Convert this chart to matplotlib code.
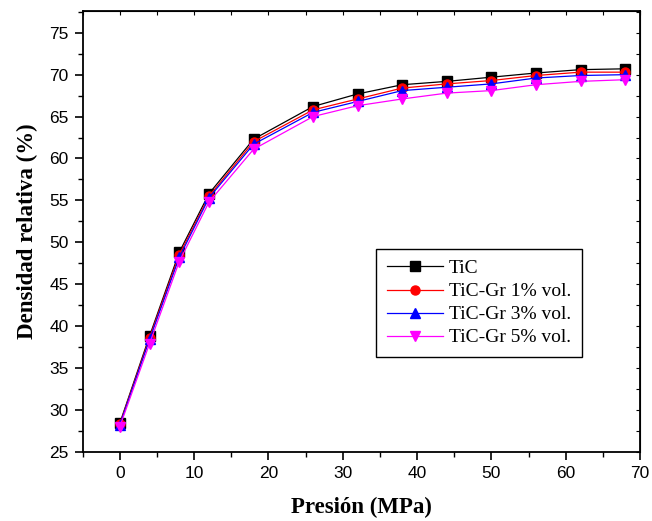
import numpy as np
import matplotlib
matplotlib.use("Agg")
import matplotlib.pyplot as plt
from matplotlib.ticker import MultipleLocator

# Data
presion = [0, 4, 8, 12, 18, 26, 32, 38, 44, 50, 56, 62, 68]
tic = [28.4, 38.8, 48.8, 55.8, 62.3, 66.2, 67.7, 68.8, 69.2, 69.7, 70.2, 70.6, 70.7]
tic_gr1 = [28.3, 38.6, 48.5, 55.5, 62.0, 65.8, 67.1, 68.4, 68.9, 69.3, 69.9, 70.3, 70.3]
tic_gr3 = [28.2, 38.4, 48.2, 55.3, 61.7, 65.5, 66.8, 68.1, 68.5, 68.9, 69.6, 69.9, 70.0]
tic_gr5 = [28.0, 37.9, 47.7, 54.8, 61.1, 65.0, 66.3, 67.1, 67.8, 68.1, 68.8, 69.2, 69.4]

series = [
    ("TiC", tic, "black", "s"),
    ("TiC-Gr 1% vol.", tic_gr1, "red", "o"),
    ("TiC-Gr 3% vol.", tic_gr3, "blue", "^"),
    ("TiC-Gr 5% vol.", tic_gr5, "magenta", "v"),
]

fig = plt.figure(figsize=(6.52, 5.21), dpi=100)
ax = fig.add_axes([0.1268, 0.133, 0.8548, 0.8459])

for label, vals, color, marker in series:
    ax.plot(presion, vals, color=color, marker=marker, markersize=6.5,
            linewidth=0.9, label=label)

ax.set_xlim(-5, 70)
ax.set_ylim(25, 77.6)
ax.xaxis.set_major_locator(MultipleLocator(10))
ax.xaxis.set_minor_locator(MultipleLocator(5))
ax.yaxis.set_major_locator(MultipleLocator(5))
ax.yaxis.set_minor_locator(MultipleLocator(2.5))
ax.tick_params(which="major", direction="out", length=6, width=1.2,
               labelsize=12.5, pad=4)
ax.tick_params(which="minor", direction="out", length=3.5, width=1.0)
for lab in ax.get_xticklabels() + ax.get_yticklabels():
    lab.set_family("Liberation Sans")
for sp in ax.spines.values():
    sp.set_linewidth(1.3)

# inward ticks on the top and right spines
top = ax.secondary_xaxis("top")
top.xaxis.set_major_locator(MultipleLocator(5))
top.tick_params(direction="in", length=3, width=0.8, labeltop=False)
right = ax.secondary_yaxis("right")
right.yaxis.set_major_locator(MultipleLocator(2.5))
right.tick_params(direction="in", length=3, width=0.8, labelright=False)

ax.set_xlabel("Presión (MPa)", family="Liberation Serif", fontweight="bold",
              fontsize=16.5, labelpad=12)
ax.set_ylabel("Densidad relativa (%)", family="Liberation Serif",
              fontweight="bold", fontsize=16.5, labelpad=8)

leg = ax.legend(loc="upper left", bbox_to_anchor=(0.526, 0.46),
                borderaxespad=0, fancybox=False, framealpha=1,
                edgecolor="black", prop={"family": "Liberation Serif", "size": 14},
                handlelength=2.9, labelspacing=0.28, borderpad=0.55,
                handletextpad=0.3)
leg.get_frame().set_linewidth(1.0)

fig.savefig("out.png", dpi=100)
